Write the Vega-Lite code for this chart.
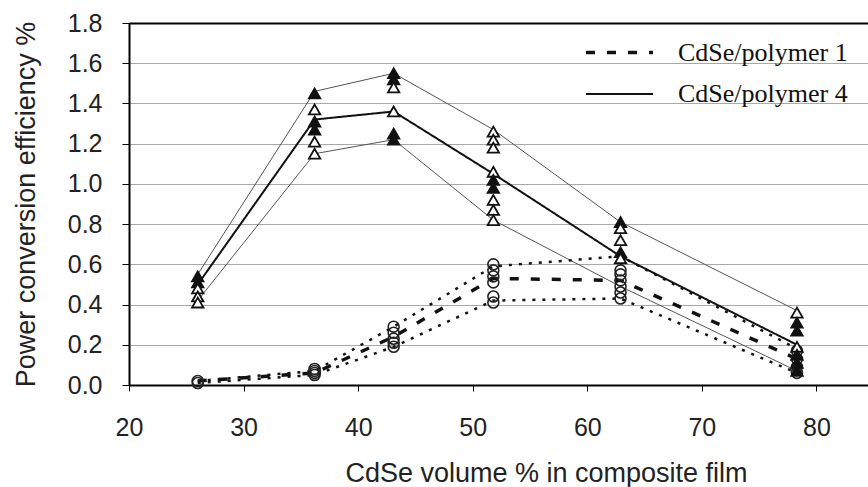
{
  "$schema": "https://vega.github.io/schema/vega-lite/v6.json",
  "width": 739,
  "height": 362,
  "autosize": "none",
  "padding": {"left": 129, "top": 23, "right": 0, "bottom": 102},
  "background": "white",
  "config": {
    "font": "Liberation Sans",
    "view": {"stroke": null},
    "axis": {
      "labelFontSize": 25,
      "labelColor": "#222",
      "labelFlush": false,
      "titleFontSize": 27,
      "titleFontWeight": "normal",
      "titleColor": "#222",
      "domainColor": "black",
      "domainWidth": 2,
      "tickColor": "black",
      "tickWidth": 1
    }
  },
  "datasets": {
    "lines": [
      {"x": 26.0, "y": 0.50, "series": "CdSe/polymer 4", "band": "mean"},
      {"x": 36.2, "y": 1.32, "series": "CdSe/polymer 4", "band": "mean"},
      {"x": 43.1, "y": 1.36, "series": "CdSe/polymer 4", "band": "mean"},
      {"x": 51.8, "y": 1.05, "series": "CdSe/polymer 4", "band": "mean"},
      {"x": 62.9, "y": 0.64, "series": "CdSe/polymer 4", "band": "mean"},
      {"x": 78.3, "y": 0.20, "series": "CdSe/polymer 4", "band": "mean"},
      {"x": 26.0, "y": 0.55, "series": "CdSe/polymer 4", "band": "upper"},
      {"x": 36.2, "y": 1.46, "series": "CdSe/polymer 4", "band": "upper"},
      {"x": 43.1, "y": 1.55, "series": "CdSe/polymer 4", "band": "upper"},
      {"x": 51.8, "y": 1.27, "series": "CdSe/polymer 4", "band": "upper"},
      {"x": 62.9, "y": 0.81, "series": "CdSe/polymer 4", "band": "upper"},
      {"x": 78.3, "y": 0.37, "series": "CdSe/polymer 4", "band": "upper"},
      {"x": 26.0, "y": 0.42, "series": "CdSe/polymer 4", "band": "lower"},
      {"x": 36.2, "y": 1.15, "series": "CdSe/polymer 4", "band": "lower"},
      {"x": 43.1, "y": 1.22, "series": "CdSe/polymer 4", "band": "lower"},
      {"x": 51.8, "y": 0.82, "series": "CdSe/polymer 4", "band": "lower"},
      {"x": 62.9, "y": 0.49, "series": "CdSe/polymer 4", "band": "lower"},
      {"x": 78.3, "y": 0.07, "series": "CdSe/polymer 4", "band": "lower"},
      {"x": 26.0, "y": 0.02, "series": "CdSe/polymer 1", "band": "mean"},
      {"x": 36.2, "y": 0.06, "series": "CdSe/polymer 1", "band": "mean"},
      {"x": 43.1, "y": 0.24, "series": "CdSe/polymer 1", "band": "mean"},
      {"x": 51.8, "y": 0.53, "series": "CdSe/polymer 1", "band": "mean"},
      {"x": 62.9, "y": 0.52, "series": "CdSe/polymer 1", "band": "mean"},
      {"x": 78.3, "y": 0.13, "series": "CdSe/polymer 1", "band": "mean"},
      {"x": 26.0, "y": 0.02, "series": "CdSe/polymer 1", "band": "upper"},
      {"x": 36.2, "y": 0.07, "series": "CdSe/polymer 1", "band": "upper"},
      {"x": 43.1, "y": 0.29, "series": "CdSe/polymer 1", "band": "upper"},
      {"x": 51.8, "y": 0.59, "series": "CdSe/polymer 1", "band": "upper"},
      {"x": 62.9, "y": 0.64, "series": "CdSe/polymer 1", "band": "upper"},
      {"x": 78.3, "y": 0.18, "series": "CdSe/polymer 1", "band": "upper"},
      {"x": 26.0, "y": 0.01, "series": "CdSe/polymer 1", "band": "lower"},
      {"x": 36.2, "y": 0.05, "series": "CdSe/polymer 1", "band": "lower"},
      {"x": 43.1, "y": 0.19, "series": "CdSe/polymer 1", "band": "lower"},
      {"x": 51.8, "y": 0.42, "series": "CdSe/polymer 1", "band": "lower"},
      {"x": 62.9, "y": 0.43, "series": "CdSe/polymer 1", "band": "lower"},
      {"x": 78.3, "y": 0.06, "series": "CdSe/polymer 1", "band": "lower"}
    ],
    "tri": [
      {"x": 26.0, "y": 0.54, "kind": "filled"},
      {"x": 26.0, "y": 0.51, "kind": "filled"},
      {"x": 26.0, "y": 0.48, "kind": "open"},
      {"x": 26.0, "y": 0.44, "kind": "open"},
      {"x": 26.0, "y": 0.41, "kind": "open"},
      {"x": 36.2, "y": 1.45, "kind": "filled"},
      {"x": 36.2, "y": 1.37, "kind": "open"},
      {"x": 36.2, "y": 1.31, "kind": "filled"},
      {"x": 36.2, "y": 1.27, "kind": "filled"},
      {"x": 36.2, "y": 1.21, "kind": "open"},
      {"x": 36.2, "y": 1.15, "kind": "open"},
      {"x": 43.1, "y": 1.55, "kind": "filled"},
      {"x": 43.1, "y": 1.52, "kind": "filled"},
      {"x": 43.1, "y": 1.48, "kind": "open"},
      {"x": 43.1, "y": 1.36, "kind": "open"},
      {"x": 43.1, "y": 1.25, "kind": "filled"},
      {"x": 43.1, "y": 1.22, "kind": "filled"},
      {"x": 51.8, "y": 1.26, "kind": "open"},
      {"x": 51.8, "y": 1.22, "kind": "open"},
      {"x": 51.8, "y": 1.18, "kind": "open"},
      {"x": 51.8, "y": 1.06, "kind": "open"},
      {"x": 51.8, "y": 1.02, "kind": "filled"},
      {"x": 51.8, "y": 0.98, "kind": "filled"},
      {"x": 51.8, "y": 0.92, "kind": "open"},
      {"x": 51.8, "y": 0.87, "kind": "open"},
      {"x": 51.8, "y": 0.82, "kind": "open"},
      {"x": 62.9, "y": 0.81, "kind": "filled"},
      {"x": 62.9, "y": 0.78, "kind": "open"},
      {"x": 62.9, "y": 0.72, "kind": "open"},
      {"x": 62.9, "y": 0.66, "kind": "filled"},
      {"x": 62.9, "y": 0.63, "kind": "open"},
      {"x": 78.3, "y": 0.36, "kind": "open"},
      {"x": 78.3, "y": 0.31, "kind": "filled"},
      {"x": 78.3, "y": 0.27, "kind": "filled"},
      {"x": 78.3, "y": 0.19, "kind": "open"},
      {"x": 78.3, "y": 0.15, "kind": "filled"},
      {"x": 78.3, "y": 0.11, "kind": "filled"},
      {"x": 78.3, "y": 0.07, "kind": "filled"}
    ],
    "circ": [
      {"x": 26.0, "y": 0.02},
      {"x": 26.0, "y": 0.01},
      {"x": 36.2, "y": 0.08},
      {"x": 36.2, "y": 0.07},
      {"x": 36.2, "y": 0.06},
      {"x": 36.2, "y": 0.05},
      {"x": 43.1, "y": 0.29},
      {"x": 43.1, "y": 0.26},
      {"x": 43.1, "y": 0.23},
      {"x": 43.1, "y": 0.21},
      {"x": 43.1, "y": 0.19},
      {"x": 51.8, "y": 0.60},
      {"x": 51.8, "y": 0.57},
      {"x": 51.8, "y": 0.54},
      {"x": 51.8, "y": 0.51},
      {"x": 51.8, "y": 0.44},
      {"x": 51.8, "y": 0.41},
      {"x": 62.9, "y": 0.57},
      {"x": 62.9, "y": 0.55},
      {"x": 62.9, "y": 0.52},
      {"x": 62.9, "y": 0.49},
      {"x": 62.9, "y": 0.46},
      {"x": 62.9, "y": 0.43},
      {"x": 78.3, "y": 0.17},
      {"x": 78.3, "y": 0.13},
      {"x": 78.3, "y": 0.09},
      {"x": 78.3, "y": 0.06}
    ]
  },
  "encoding": {
    "x": {
      "field": "x", "type": "quantitative",
      "scale": {"domain": [20, 84.5], "nice": false, "zero": false},
      "axis": {
        "values": [20, 30, 40, 50, 60, 70, 80],
        "title": "CdSe volume % in composite film",
        "grid": false,
        "tickSize": 6,
        "labelPadding": 24,
        "titlePadding": 20,
        "titleX": 417
      }
    },
    "y": {
      "field": "y", "type": "quantitative",
      "scale": {"domain": [0, 1.8], "nice": false},
      "axis": {
        "values": [0, 0.2, 0.4, 0.6, 0.8, 1.0, 1.2, 1.4, 1.6, 1.8],
        "format": ".1f",
        "title": "Power conversion efficiency %",
        "grid": true,
        "gridColor": {"condition": {"test": "datum.value >= 1.79", "value": "black"}, "value": "#a8a8a8"},
        "gridWidth": {"condition": {"test": "datum.value >= 1.79", "value": 2}, "value": 1},
        "tickSize": 7,
        "labelPadding": 20,
        "titlePadding": 27
      }
    }
  },
  "layer": [
    {
      "data": {"name": "lines"},
      "transform": [{"filter": "datum.series == 'CdSe/polymer 4' && datum.band != 'mean'"}],
      "mark": {"type": "line", "color": "#555", "strokeWidth": 1},
      "encoding": {"detail": {"field": "band"}}
    },
    {
      "data": {"name": "lines"},
      "transform": [{"filter": "datum.series == 'CdSe/polymer 1' && datum.band != 'mean'"}],
      "mark": {"type": "line", "color": "#111", "strokeWidth": 2.5, "strokeDash": [3, 7]},
      "encoding": {"detail": {"field": "band"}}
    },
    {
      "data": {"name": "lines"},
      "transform": [{"filter": "datum.band == 'mean'"}],
      "mark": {"type": "line", "color": "#111"},
      "encoding": {
        "detail": {"field": "series"},
        "strokeDash": {
          "field": "series", "type": "nominal",
          "scale": {"domain": ["CdSe/polymer 1", "CdSe/polymer 4"], "range": [[9, 12], [1, 0]]},
          "legend": {
            "title": null,
            "orient": "none",
            "legendX": 472,
            "legendY": 11,
            "symbolType": "M-2,0H2",
            "symbolSize": 1122,
            "symbolStrokeWidth": 3,
            "symbolStrokeColor": "#111",
            "symbolFillColor": "transparent",
            "labelFont": "Liberation Serif",
            "labelFontSize": 26,
            "labelColor": "#111",
            "labelLimit": 400,
            "labelOffset": 40,
            "rowPadding": 10
          }
        },
        "strokeWidth": {
          "field": "series", "type": "nominal",
          "scale": {"domain": ["CdSe/polymer 1", "CdSe/polymer 4"], "range": [3.5, 2]},
          "legend": null
        }
      }
    },
    {
      "data": {"name": "circ"},
      "mark": {"type": "point", "shape": "circle", "filled": false, "color": "#222", "opacity": 1, "strokeWidth": 1.6, "size": 120}
    },
    {
      "data": {"name": "tri"},
      "mark": {"type": "point", "shape": "triangle-up", "stroke": "#111", "opacity": 1, "strokeOpacity": 1, "strokeWidth": 1.8, "size": 130},
      "encoding": {
        "fill": {
          "field": "kind", "type": "nominal",
          "scale": {"domain": ["filled", "open"], "range": ["#111", "white"]},
          "legend": null
        },
        "fillOpacity": {"value": 1}
      }
    }
  ]
}
